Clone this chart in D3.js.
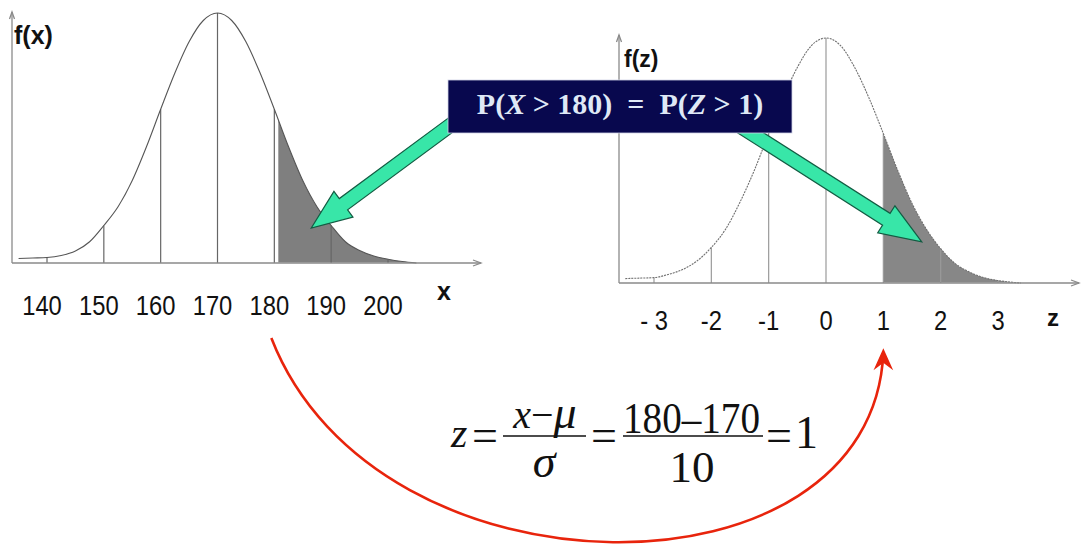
<!DOCTYPE html>
<html>
<head>
<meta charset="utf-8">
<script src="https://cdn.jsdelivr.net/npm/d3@7"></script>
<style>
  html, body { margin: 0; padding: 0; background: #fff; }
  svg { display: block; }
  text { white-space: pre; }
</style>
</head>
<body>
<svg id="chart" width="1082" height="550"></svg>
<script>
// ---------- data ----------
const leftTicks = [140, 150, 160, 170, 180, 190, 200];
const leftTickLabels = ["140", "150", "160", "170", "180", "190", "200"];
const rightTicks = [-3, -2, -1, 0, 1, 2, 3];
const rightTickLabels = ["- 3", "-2", "-1", "0", "1", "2", "3"];

// f(x): sampled heights (relative to the peak) of the left bell curve
const leftX = [135, 137.5, 140, 142.5, 145, 147.5, 150, 152.5, 155, 157.5, 160, 162.5, 165, 167.5, 170,
               172.5, 175, 177.5, 180, 182.5, 185, 187.5, 190, 192.5, 195, 197.5, 200, 202.5, 205];
const leftDensity = [0.018, 0.02, 0.022, 0.03, 0.048, 0.085, 0.15, 0.225, 0.33, 0.465, 0.615, 0.76, 0.885, 0.97, 1.0,
                     0.97, 0.885, 0.76, 0.615, 0.465, 0.33, 0.225, 0.15, 0.085, 0.05, 0.028, 0.015, 0.006, 0.0];

// f(z): sampled heights of the right (standard) bell curve
const rightZ = [-3.5, -3.25, -3, -2.75, -2.5, -2.25, -2, -1.75, -1.5, -1.25, -1, -0.75, -0.5, -0.25, 0,
                0.25, 0.5, 0.75, 1, 1.25, 1.5, 1.75, 2, 2.25, 2.5, 2.75, 3, 3.25, 3.4];
const rightDensity = [0.018, 0.02, 0.022, 0.035, 0.055, 0.09, 0.145, 0.22, 0.33, 0.46, 0.61, 0.755, 0.88, 0.97, 1.0,
                      0.97, 0.88, 0.755, 0.61, 0.46, 0.325, 0.22, 0.14, 0.08, 0.045, 0.022, 0.01, 0.003, 0.0];

const leftShadeFrom = 180.7;   // x value where the left shaded tail starts
const rightShadeFrom = 1.0;    // z value where the right shaded tail starts
const mu = 170, sigma = 10, xValue = 180;

// ---------- drawing ----------
const svg = d3.select("#chart");
const defs = svg.append("defs");

// scales
const xL = d3.scaleLinear().domain([140, 200]).range([47, 388]);
const yL = d3.scaleLinear().domain([0, 1]).range([263, 13]);
const xR = d3.scaleLinear().domain([-3, 3]).range([654, 998]);
const yR = d3.scaleLinear().domain([0, 1]).range([283, 38]);

function drawPanel(opts) {
  const { xs, ds, x, y, ticks, labels, shadeFrom, curveColor, curveDash, gridColor, shadeColor,
          axisLeft, axisTop, axisRight, clipId, labelDx, labelY, labelSize } = opts;
  const g = svg.append("g");
  const pts = xs.map((v, i) => [v, ds[i]]);
  const base = y(0);

  defs.append("clipPath").attr("id", clipId)
    .append("rect").attr("x", x(shadeFrom)).attr("y", 0)
    .attr("width", 1082 - x(shadeFrom)).attr("height", base - 0.5);

  const area = d3.area().x(d => x(d[0])).y0(base).y1(d => y(d[1])).curve(d3.curveMonotoneX);
  g.append("path").datum(pts).attr("d", area)
    .attr("fill", shadeColor).attr("clip-path", `url(#${clipId})`);

  ticks.forEach(t => {
    const i = xs.indexOf(t);
    g.append("line")
      .attr("x1", x(t)).attr("x2", x(t))
      .attr("y1", base).attr("y2", y(ds[i]))
      .attr("stroke", gridColor).attr("stroke-width", 1.2);
  });

  const line = d3.line().x(d => x(d[0])).y(d => y(d[1])).curve(d3.curveMonotoneX);
  g.append("path").datum(pts).attr("d", line)
    .attr("fill", "none").attr("stroke", curveColor).attr("stroke-width", 1.1)
    .attr("stroke-dasharray", curveDash);

  const ax = g.append("g").attr("stroke", "#8a8a8a").attr("stroke-width", 1.3).attr("fill", "none");
  ax.append("line").attr("x1", axisLeft).attr("x2", axisLeft).attr("y1", base).attr("y2", axisTop);
  ax.append("line").attr("x1", axisLeft).attr("x2", axisRight).attr("y1", base).attr("y2", base);
  ax.append("path").attr("d", `M${axisLeft - 2.5},${axisTop + 7} L${axisLeft},${axisTop} L${axisLeft + 2.5},${axisTop + 7}`);
  ax.append("path").attr("d", `M${axisRight - 8},${base - 3} L${axisRight},${base} L${axisRight - 8},${base + 3}`);

  // tick labels (slightly condensed, as in the original)
  g.selectAll("text.tick").data(ticks).enter().append("text")
    .attr("class", "tick")
    .attr("x", (d) => x(d) + labelDx)
    .attr("y", labelY)
    .attr("text-anchor", "middle")
    .attr("font-family", "Liberation Sans, Arial, sans-serif")
    .attr("font-size", labelSize)
    .attr("fill", "#111")
    .text((d, i) => labels[i])
    .each(function () {
      const w = this.getComputedTextLength();
      d3.select(this).attr("textLength", w * 0.88).attr("lengthAdjust", "spacingAndGlyphs");
    });
  return g;
}

drawPanel({
  xs: leftX, ds: leftDensity, x: xL, y: yL, ticks: leftTicks, labels: leftTickLabels,
  shadeFrom: leftShadeFrom, curveColor: "#555", curveDash: null, gridColor: "#666", shadeColor: "#7f7f7f",
  axisLeft: 12, axisTop: 12, axisRight: 481, clipId: "clipL", labelDx: -5, labelY: 315, labelSize: 27
});
drawPanel({
  xs: rightZ, ds: rightDensity, x: xR, y: yR, ticks: rightTicks, labels: rightTickLabels,
  shadeFrom: rightShadeFrom, curveColor: "#6f6f6f", curveDash: "2,1", gridColor: "#9a9a9a", shadeColor: "#878787",
  axisLeft: 619, axisTop: 35, axisRight: 1079, clipId: "clipR", labelDx: 0, labelY: 330, labelSize: 27
});

// axis titles
const boldSans = "Liberation Sans, Arial, sans-serif";
svg.append("text").attr("x", 14).attr("y", 44).attr("font-family", boldSans).attr("font-weight", "bold")
  .attr("font-size", 25).attr("fill", "#111").text("f(x)");
svg.append("text").attr("x", 437).attr("y", 300).attr("font-family", boldSans).attr("font-weight", "bold")
  .attr("font-size", 25).attr("fill", "#111").text("x");
svg.append("text").attr("x", 624).attr("y", 67).attr("font-family", boldSans).attr("font-weight", "bold")
  .attr("font-size", 23).attr("fill", "#111").text("f(z)");
svg.append("text").attr("x", 1047).attr("y", 326).attr("font-family", boldSans).attr("font-weight", "bold")
  .attr("font-size", 24).attr("fill", "#111").text("z");

// green block arrows
function blockArrow(tail, tip, shaftW, headL, headW) {
  const dx = tip[0] - tail[0], dy = tip[1] - tail[1];
  const L = Math.hypot(dx, dy);
  const ux = dx / L, uy = dy / L, nx = -uy, ny = ux;
  const bx = tip[0] - ux * headL, by = tip[1] - uy * headL;
  const p = (x0, y0, s) => [x0 + nx * s, y0 + ny * s];
  const pts = [p(tail[0], tail[1], shaftW / 2), p(bx, by, shaftW / 2), p(bx, by, headW / 2), tip,
               p(bx, by, -headW / 2), p(bx, by, -shaftW / 2), p(tail[0], tail[1], -shaftW / 2)];
  svg.append("path").attr("d", "M" + pts.map(q => q.join(",")).join("L") + "Z")
    .attr("fill", "#38e6a8").attr("stroke", "#135c43").attr("stroke-width", 1.2)
    .attr("stroke-linejoin", "miter");
}
blockArrow([452, 124], [xL(186.5), yL(0.14)], 14, 40, 32);
blockArrow([740, 126], [xR(1.67), yR(0.168)], 14, 42, 32);

// label box
svg.append("rect").attr("x", 448).attr("y", 80).attr("width", 344).attr("height", 53)
  .attr("fill", "#08084e").attr("stroke", "#cfd3e6").attr("stroke-width", 0.8);
const bt = svg.append("text").attr("x", 620).attr("y", 114).attr("text-anchor", "middle")
  .attr("font-family", "Liberation Serif, Times New Roman, serif").attr("font-weight", "bold")
  .attr("font-size", 30).attr("fill", "#dfe8f6");
bt.append("tspan").text("P(");
bt.append("tspan").attr("font-style", "italic").text("X");
bt.append("tspan").text(` > ${xValue})  =  P(`);
bt.append("tspan").attr("font-style", "italic").text("Z");
bt.append("tspan").text(` > ${(xValue - mu) / sigma})`);

// red curved arrow from x = 180 to z = 1
const red = "#e8240c";
const startX = xL(xValue) - 3, endX = xR((xValue - mu) / sigma);
svg.append("path")
  .attr("d", `M${startX},338 C${startX + 105},608 ${endX - 10},608 ${endX},352`)
  .attr("fill", "none").attr("stroke", red).attr("stroke-width", 2.6);
svg.append("path")
  .attr("d", `M${endX - 8},368 L${endX},350 L${endX + 8},368 L${endX},362 Z`)
  .attr("fill", red).attr("stroke", red).attr("stroke-width", 1.5).attr("stroke-linejoin", "miter");

// formula
const serif = "Liberation Serif, Times New Roman, serif";
const f = svg.append("g").attr("font-family", serif).attr("fill", "#111");
f.append("text").attr("x", 451).attr("y", 447).attr("font-size", 42).attr("font-style", "italic").text("z");
f.append("text").attr("x", 472).attr("y", 451).attr("font-size", 46).text("=");
f.append("line").attr("x1", 503).attr("x2", 586).attr("y1", 436).attr("y2", 436).attr("stroke", "#111").attr("stroke-width", 1.6);
const num1 = f.append("text").attr("x", 545).attr("y", 428).attr("text-anchor", "middle").attr("font-size", 40);
num1.append("tspan").attr("font-style", "italic").text("x");
num1.append("tspan").text("−");
num1.append("tspan").attr("font-style", "italic").attr("font-size", 46).text("μ");
f.append("text").attr("x", 544).attr("y", 477).attr("text-anchor", "middle").attr("font-size", 46)
  .attr("font-style", "italic").text("σ");
f.append("text").attr("x", 591).attr("y", 451).attr("font-size", 46).text("=");
f.append("text").attr("transform", "translate(623,433) scale(0.87,1)").attr("font-size", 45)
  .text(`${xValue}–${mu}`);
f.append("line").attr("x1", 623).attr("x2", 763).attr("y1", 436).attr("y2", 436).attr("stroke", "#111").attr("stroke-width", 1.6);
f.append("text").attr("x", 692).attr("y", 482).attr("text-anchor", "middle").attr("font-size", 45).text(`${sigma}`);
f.append("text").attr("x", 766).attr("y", 451).attr("font-size", 46).text("=");
f.append("text").attr("x", 795).attr("y", 448).attr("font-size", 46).text(`${(xValue - mu) / sigma}`);
</script>
</body>
</html>
